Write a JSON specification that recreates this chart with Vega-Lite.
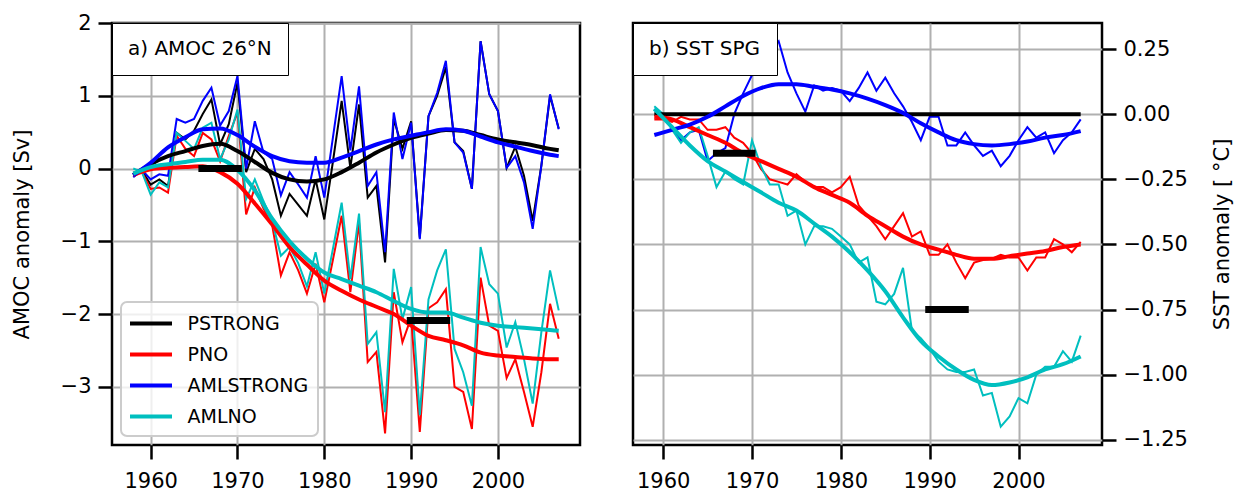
{
"$schema": "https://vega.github.io/schema/vega-lite/v6.json",
"background": "white",
"padding": {"left": 9, "top": 10, "right": 5, "bottom": 2},
"spacing": 49,
"config": {
 "font": "DejaVu Sans",
 "view": {"stroke": "black", "strokeWidth": 2.5},
 "axis": {"labelFont": "DejaVu Sans", "titleFont": "DejaVu Sans", "labelFontSize": 21, "titleFontSize": 21, "titleFontWeight": "normal", "labelColor": "black", "titleColor": "black", "tickColor": "black", "tickSize": 14, "tickWidth": 2.5, "domain": false, "grid": true, "gridColor": "#b0b0b0", "gridWidth": 2, "gridOpacity": 1, "labelPadding": 7},
 "axisX": {"labelPadding": 11},
 "legend": {"titleFont": "DejaVu Sans", "labelFont": "DejaVu Sans"}
},
"datasets": {
 "a_thin": [
  {"year":1958,"P_STRONG":-0.08,"P_NO":-0.05,"AML_STRONG":-0.12,"AML_NO":0.0},
  {"year":1959,"P_STRONG":-0.03,"P_NO":-0.05,"AML_STRONG":-0.02,"AML_NO":-0.05},
  {"year":1960,"P_STRONG":-0.22,"P_NO":-0.28,"AML_STRONG":-0.15,"AML_NO":-0.36},
  {"year":1961,"P_STRONG":-0.15,"P_NO":-0.26,"AML_STRONG":-0.08,"AML_NO":-0.19},
  {"year":1962,"P_STRONG":-0.24,"P_NO":-0.33,"AML_STRONG":-0.10,"AML_NO":-0.26},
  {"year":1963,"P_STRONG":0.49,"P_NO":0.45,"AML_STRONG":0.68,"AML_NO":0.49},
  {"year":1964,"P_STRONG":0.40,"P_NO":0.27,"AML_STRONG":0.63,"AML_NO":0.38},
  {"year":1965,"P_STRONG":0.52,"P_NO":0.17,"AML_STRONG":0.68,"AML_NO":0.27},
  {"year":1966,"P_STRONG":0.75,"P_NO":0.49,"AML_STRONG":0.93,"AML_NO":0.56},
  {"year":1967,"P_STRONG":0.95,"P_NO":0.40,"AML_STRONG":1.11,"AML_NO":0.63},
  {"year":1968,"P_STRONG":0.33,"P_NO":0.10,"AML_STRONG":0.59,"AML_NO":0.13},
  {"year":1969,"P_STRONG":0.61,"P_NO":0.45,"AML_STRONG":0.79,"AML_NO":0.40},
  {"year":1970,"P_STRONG":1.18,"P_NO":0.77,"AML_STRONG":1.27,"AML_NO":0.81},
  {"year":1971,"P_STRONG":-0.05,"P_NO":-0.63,"AML_STRONG":0.00,"AML_NO":-0.42},
  {"year":1972,"P_STRONG":0.27,"P_NO":-0.26,"AML_STRONG":0.65,"AML_NO":-0.15},
  {"year":1973,"P_STRONG":0.13,"P_NO":-0.55,"AML_STRONG":0.22,"AML_NO":-0.45},
  {"year":1974,"P_STRONG":-0.15,"P_NO":-0.78,"AML_STRONG":0.13,"AML_NO":-0.72},
  {"year":1975,"P_STRONG":-0.65,"P_NO":-1.47,"AML_STRONG":-0.37,"AML_NO":-1.20},
  {"year":1976,"P_STRONG":-0.35,"P_NO":-1.15,"AML_STRONG":-0.05,"AML_NO":-1.08},
  {"year":1977,"P_STRONG":-0.50,"P_NO":-1.40,"AML_STRONG":-0.22,"AML_NO":-1.30},
  {"year":1978,"P_STRONG":-0.65,"P_NO":-1.72,"AML_STRONG":-0.40,"AML_NO":-1.62},
  {"year":1979,"P_STRONG":-0.15,"P_NO":-1.31,"AML_STRONG":0.17,"AML_NO":-1.15},
  {"year":1980,"P_STRONG":-0.70,"P_NO":-1.84,"AML_STRONG":-0.40,"AML_NO":-1.72},
  {"year":1981,"P_STRONG":0.10,"P_NO":-1.25,"AML_STRONG":0.43,"AML_NO":-1.10},
  {"year":1982,"P_STRONG":0.93,"P_NO":-0.65,"AML_STRONG":1.27,"AML_NO":-0.47},
  {"year":1983,"P_STRONG":0.01,"P_NO":-1.70,"AML_STRONG":0.25,"AML_NO":-1.52},
  {"year":1984,"P_STRONG":0.88,"P_NO":-0.74,"AML_STRONG":1.13,"AML_NO":-0.62},
  {"year":1985,"P_STRONG":-0.40,"P_NO":-2.66,"AML_STRONG":-0.24,"AML_NO":-2.41},
  {"year":1986,"P_STRONG":-0.24,"P_NO":-2.52,"AML_STRONG":-0.05,"AML_NO":-2.25},
  {"year":1987,"P_STRONG":-1.29,"P_NO":-3.64,"AML_STRONG":-1.15,"AML_NO":-3.35},
  {"year":1988,"P_STRONG":0.68,"P_NO":-1.70,"AML_STRONG":0.77,"AML_NO":-1.38},
  {"year":1989,"P_STRONG":0.27,"P_NO":-2.39,"AML_STRONG":0.13,"AML_NO":-2.07},
  {"year":1990,"P_STRONG":0.65,"P_NO":-2.05,"AML_STRONG":0.63,"AML_NO":-1.63},
  {"year":1991,"P_STRONG":-0.95,"P_NO":-3.62,"AML_STRONG":-0.97,"AML_NO":-3.39},
  {"year":1992,"P_STRONG":0.72,"P_NO":-1.92,"AML_STRONG":0.72,"AML_NO":-1.80},
  {"year":1993,"P_STRONG":1.00,"P_NO":-1.84,"AML_STRONG":1.04,"AML_NO":-1.40},
  {"year":1994,"P_STRONG":1.39,"P_NO":-1.66,"AML_STRONG":1.48,"AML_NO":-1.11},
  {"year":1995,"P_STRONG":0.36,"P_NO":-3.00,"AML_STRONG":0.36,"AML_NO":-2.48},
  {"year":1996,"P_STRONG":0.24,"P_NO":-3.07,"AML_STRONG":0.22,"AML_NO":-2.80},
  {"year":1997,"P_STRONG":-0.28,"P_NO":-3.58,"AML_STRONG":-0.28,"AML_NO":-3.26},
  {"year":1998,"P_STRONG":1.75,"P_NO":-1.50,"AML_STRONG":1.75,"AML_NO":-1.08},
  {"year":1999,"P_STRONG":1.02,"P_NO":-2.16,"AML_STRONG":1.02,"AML_NO":-1.59},
  {"year":2000,"P_STRONG":0.79,"P_NO":-2.23,"AML_STRONG":0.79,"AML_NO":-1.72},
  {"year":2001,"P_STRONG":0.01,"P_NO":-2.88,"AML_STRONG":0.01,"AML_NO":-2.46},
  {"year":2002,"P_STRONG":0.30,"P_NO":-2.62,"AML_STRONG":0.17,"AML_NO":-2.11},
  {"year":2003,"P_STRONG":-0.10,"P_NO":-3.07,"AML_STRONG":-0.19,"AML_NO":-2.62},
  {"year":2004,"P_STRONG":-0.72,"P_NO":-3.55,"AML_STRONG":-0.83,"AML_NO":-3.23},
  {"year":2005,"P_STRONG":0.04,"P_NO":-2.80,"AML_STRONG":0.04,"AML_NO":-2.25},
  {"year":2006,"P_STRONG":1.00,"P_NO":-1.86,"AML_STRONG":1.02,"AML_NO":-1.40},
  {"year":2007,"P_STRONG":0.55,"P_NO":-2.34,"AML_STRONG":0.54,"AML_NO":-1.95}
 ],
 "a_smooth": [
  {"year":1958,"P_STRONG":-0.09,"P_NO":-0.09,"AML_STRONG":-0.09,"AML_NO":-0.07},
  {"year":1960,"P_STRONG":0.06,"P_NO":-0.01,"AML_STRONG":0.08,"AML_NO":0.02},
  {"year":1962,"P_STRONG":0.17,"P_NO":0.01,"AML_STRONG":0.29,"AML_NO":0.06},
  {"year":1964,"P_STRONG":0.24,"P_NO":0.02,"AML_STRONG":0.43,"AML_NO":0.09},
  {"year":1966,"P_STRONG":0.31,"P_NO":0.03,"AML_STRONG":0.54,"AML_NO":0.12},
  {"year":1968,"P_STRONG":0.34,"P_NO":-0.05,"AML_STRONG":0.55,"AML_NO":0.12},
  {"year":1970,"P_STRONG":0.24,"P_NO":-0.21,"AML_STRONG":0.46,"AML_NO":-0.02},
  {"year":1972,"P_STRONG":0.09,"P_NO":-0.48,"AML_STRONG":0.30,"AML_NO":-0.30},
  {"year":1974,"P_STRONG":-0.06,"P_NO":-0.77,"AML_STRONG":0.17,"AML_NO":-0.69},
  {"year":1976,"P_STRONG":-0.15,"P_NO":-1.08,"AML_STRONG":0.10,"AML_NO":-1.00},
  {"year":1978,"P_STRONG":-0.18,"P_NO":-1.32,"AML_STRONG":0.08,"AML_NO":-1.24},
  {"year":1980,"P_STRONG":-0.15,"P_NO":-1.54,"AML_STRONG":0.08,"AML_NO":-1.43},
  {"year":1982,"P_STRONG":-0.05,"P_NO":-1.68,"AML_STRONG":0.15,"AML_NO":-1.52},
  {"year":1984,"P_STRONG":0.08,"P_NO":-1.80,"AML_STRONG":0.24,"AML_NO":-1.61},
  {"year":1986,"P_STRONG":0.22,"P_NO":-1.90,"AML_STRONG":0.33,"AML_NO":-1.70},
  {"year":1988,"P_STRONG":0.33,"P_NO":-2.00,"AML_STRONG":0.40,"AML_NO":-1.82},
  {"year":1990,"P_STRONG":0.42,"P_NO":-2.16,"AML_STRONG":0.45,"AML_NO":-1.93},
  {"year":1992,"P_STRONG":0.48,"P_NO":-2.30,"AML_STRONG":0.50,"AML_NO":-1.98},
  {"year":1994,"P_STRONG":0.53,"P_NO":-2.36,"AML_STRONG":0.54,"AML_NO":-1.98},
  {"year":1996,"P_STRONG":0.52,"P_NO":-2.43,"AML_STRONG":0.52,"AML_NO":-2.05},
  {"year":1998,"P_STRONG":0.46,"P_NO":-2.53,"AML_STRONG":0.44,"AML_NO":-2.12},
  {"year":2000,"P_STRONG":0.40,"P_NO":-2.57,"AML_STRONG":0.36,"AML_NO":-2.16},
  {"year":2002,"P_STRONG":0.36,"P_NO":-2.59,"AML_STRONG":0.30,"AML_NO":-2.18},
  {"year":2004,"P_STRONG":0.32,"P_NO":-2.61,"AML_STRONG":0.24,"AML_NO":-2.20},
  {"year":2006,"P_STRONG":0.27,"P_NO":-2.62,"AML_STRONG":0.19,"AML_NO":-2.22},
  {"year":2007,"P_STRONG":0.25,"P_NO":-2.62,"AML_STRONG":0.17,"AML_NO":-2.23}
 ],
 "a_bars": [
  {"panel":"a","start":1965.5,"end":1970.5,"value":0.0},
  {"panel":"a","start":1989.5,"end":1994.5,"value":-2.09}
 ],
 "b_thin": [
  {"year":1959,"P_NO":-0.02,"AML_STRONG":0.02,"AML_NO":0.03},
  {"year":1960,"P_NO":-0.02,"AML_STRONG":-0.01,"AML_NO":0.00},
  {"year":1961,"P_NO":-0.03,"AML_STRONG":-0.05,"AML_NO":-0.06},
  {"year":1962,"P_NO":-0.01,"AML_STRONG":-0.10,"AML_NO":-0.11},
  {"year":1963,"P_NO":-0.02,"AML_STRONG":-0.07,"AML_NO":-0.07},
  {"year":1964,"P_NO":-0.02,"AML_STRONG":-0.06,"AML_NO":-0.05},
  {"year":1965,"P_NO":-0.06,"AML_STRONG":-0.18,"AML_NO":-0.16},
  {"year":1966,"P_NO":-0.06,"AML_STRONG":-0.15,"AML_NO":-0.28},
  {"year":1967,"P_NO":-0.05,"AML_STRONG":-0.13,"AML_NO":-0.22},
  {"year":1968,"P_NO":-0.09,"AML_STRONG":0.00,"AML_NO":-0.25},
  {"year":1969,"P_NO":-0.11,"AML_STRONG":0.08,"AML_NO":-0.27},
  {"year":1970,"P_NO":-0.15,"AML_STRONG":0.15,"AML_NO":-0.10},
  {"year":1971,"P_NO":-0.21,"AML_STRONG":0.20,"AML_NO":-0.20},
  {"year":1972,"P_NO":-0.25,"AML_STRONG":0.24,"AML_NO":-0.27},
  {"year":1973,"P_NO":-0.26,"AML_STRONG":0.28,"AML_NO":-0.27},
  {"year":1974,"P_NO":-0.27,"AML_STRONG":0.16,"AML_NO":-0.39},
  {"year":1975,"P_NO":-0.23,"AML_STRONG":0.08,"AML_NO":-0.37},
  {"year":1976,"P_NO":-0.26,"AML_STRONG":0.01,"AML_NO":-0.50},
  {"year":1977,"P_NO":-0.28,"AML_STRONG":0.11,"AML_NO":-0.43},
  {"year":1978,"P_NO":-0.28,"AML_STRONG":0.09,"AML_NO":-0.43},
  {"year":1979,"P_NO":-0.30,"AML_STRONG":0.10,"AML_NO":-0.44},
  {"year":1980,"P_NO":-0.28,"AML_STRONG":0.09,"AML_NO":-0.47},
  {"year":1981,"P_NO":-0.24,"AML_STRONG":0.05,"AML_NO":-0.50},
  {"year":1982,"P_NO":-0.35,"AML_STRONG":0.10,"AML_NO":-0.57},
  {"year":1983,"P_NO":-0.39,"AML_STRONG":0.16,"AML_NO":-0.55},
  {"year":1984,"P_NO":-0.43,"AML_STRONG":0.09,"AML_NO":-0.72},
  {"year":1985,"P_NO":-0.48,"AML_STRONG":0.14,"AML_NO":-0.73},
  {"year":1986,"P_NO":-0.43,"AML_STRONG":0.08,"AML_NO":-0.69},
  {"year":1987,"P_NO":-0.38,"AML_STRONG":0.03,"AML_NO":-0.59},
  {"year":1988,"P_NO":-0.47,"AML_STRONG":-0.03,"AML_NO":-0.83},
  {"year":1989,"P_NO":-0.45,"AML_STRONG":-0.10,"AML_NO":-0.86},
  {"year":1990,"P_NO":-0.54,"AML_STRONG":-0.01,"AML_NO":-0.90},
  {"year":1991,"P_NO":-0.54,"AML_STRONG":-0.01,"AML_NO":-0.95},
  {"year":1992,"P_NO":-0.50,"AML_STRONG":-0.12,"AML_NO":-0.98},
  {"year":1993,"P_NO":-0.57,"AML_STRONG":-0.12,"AML_NO":-0.99},
  {"year":1994,"P_NO":-0.63,"AML_STRONG":-0.07,"AML_NO":-0.99},
  {"year":1995,"P_NO":-0.57,"AML_STRONG":-0.12,"AML_NO":-0.98},
  {"year":1996,"P_NO":-0.56,"AML_STRONG":-0.16,"AML_NO":-1.08},
  {"year":1997,"P_NO":-0.555,"AML_STRONG":-0.14,"AML_NO":-1.07},
  {"year":1998,"P_NO":-0.54,"AML_STRONG":-0.20,"AML_NO":-1.20},
  {"year":1999,"P_NO":-0.55,"AML_STRONG":-0.16,"AML_NO":-1.16},
  {"year":2000,"P_NO":-0.55,"AML_STRONG":-0.10,"AML_NO":-1.09},
  {"year":2001,"P_NO":-0.60,"AML_STRONG":-0.05,"AML_NO":-1.11},
  {"year":2002,"P_NO":-0.55,"AML_STRONG":-0.09,"AML_NO":-1.00},
  {"year":2003,"P_NO":-0.55,"AML_STRONG":-0.07,"AML_NO":-0.97},
  {"year":2004,"P_NO":-0.48,"AML_STRONG":-0.15,"AML_NO":-0.97},
  {"year":2005,"P_NO":-0.50,"AML_STRONG":-0.10,"AML_NO":-0.91},
  {"year":2006,"P_NO":-0.53,"AML_STRONG":-0.07,"AML_NO":-0.95},
  {"year":2007,"P_NO":-0.49,"AML_STRONG":-0.02,"AML_NO":-0.85}
 ],
 "b_smooth": [
  {"year":1959,"P_STRONG":0,"P_NO":-0.01,"AML_STRONG":-0.08,"AML_NO":0.02},
  {"year":1961,"P_STRONG":0,"P_NO":-0.02,"AML_STRONG":-0.06,"AML_NO":-0.05},
  {"year":1963,"P_STRONG":0,"P_NO":-0.05,"AML_STRONG":-0.04,"AML_NO":-0.12},
  {"year":1965,"P_STRONG":0,"P_NO":-0.08,"AML_STRONG":-0.01,"AML_NO":-0.18},
  {"year":1967,"P_STRONG":0,"P_NO":-0.11,"AML_STRONG":0.03,"AML_NO":-0.22},
  {"year":1969,"P_STRONG":0,"P_NO":-0.15,"AML_STRONG":0.07,"AML_NO":-0.26},
  {"year":1971,"P_STRONG":0,"P_NO":-0.18,"AML_STRONG":0.10,"AML_NO":-0.30},
  {"year":1973,"P_STRONG":0,"P_NO":-0.21,"AML_STRONG":0.115,"AML_NO":-0.34},
  {"year":1975,"P_STRONG":0,"P_NO":-0.24,"AML_STRONG":0.115,"AML_NO":-0.37},
  {"year":1977,"P_STRONG":0,"P_NO":-0.28,"AML_STRONG":0.105,"AML_NO":-0.42},
  {"year":1979,"P_STRONG":0,"P_NO":-0.31,"AML_STRONG":0.095,"AML_NO":-0.47},
  {"year":1981,"P_STRONG":0,"P_NO":-0.34,"AML_STRONG":0.08,"AML_NO":-0.53},
  {"year":1983,"P_STRONG":0,"P_NO":-0.39,"AML_STRONG":0.06,"AML_NO":-0.60},
  {"year":1985,"P_STRONG":0,"P_NO":-0.43,"AML_STRONG":0.035,"AML_NO":-0.68},
  {"year":1987,"P_STRONG":0,"P_NO":-0.47,"AML_STRONG":0.005,"AML_NO":-0.78},
  {"year":1989,"P_STRONG":0,"P_NO":-0.50,"AML_STRONG":-0.035,"AML_NO":-0.87},
  {"year":1991,"P_STRONG":0,"P_NO":-0.52,"AML_STRONG":-0.07,"AML_NO":-0.93},
  {"year":1993,"P_STRONG":0,"P_NO":-0.54,"AML_STRONG":-0.10,"AML_NO":-0.98},
  {"year":1995,"P_STRONG":0,"P_NO":-0.555,"AML_STRONG":-0.115,"AML_NO":-1.02},
  {"year":1997,"P_STRONG":0,"P_NO":-0.555,"AML_STRONG":-0.12,"AML_NO":-1.04},
  {"year":1999,"P_STRONG":0,"P_NO":-0.545,"AML_STRONG":-0.115,"AML_NO":-1.03},
  {"year":2001,"P_STRONG":0,"P_NO":-0.535,"AML_STRONG":-0.105,"AML_NO":-1.01},
  {"year":2003,"P_STRONG":0,"P_NO":-0.525,"AML_STRONG":-0.09,"AML_NO":-0.98},
  {"year":2005,"P_STRONG":0,"P_NO":-0.51,"AML_STRONG":-0.08,"AML_NO":-0.96},
  {"year":2007,"P_STRONG":0,"P_NO":-0.50,"AML_STRONG":-0.065,"AML_NO":-0.93}
 ],
 "b_bars": [
  {"panel":"b","start":1965.6,"end":1970.4,"value":-0.15},
  {"panel":"b","start":1989.5,"end":1994.4,"value":-0.75}
 ]
},
"resolve": {"scale": {"color": "independent", "opacity": "independent"}, "legend": {"color": "independent", "opacity": "independent"}},
"hconcat": [
 {
  "width": 468, "height": 422,
  "encoding": {
   "x": {"field": "year", "type": "quantitative", "scale": {"domain": [1955.55, 2009.45], "nice": false, "zero": false}, "axis": {"values": [1960, 1970, 1980, 1990, 2000], "format": "d", "title": null}},
   "y": {"field": "value", "type": "quantitative", "scale": {"domain": [-3.8, 2.0], "nice": false, "zero": false}, "axis": {"values": [-3, -2, -1, 0, 1, 2], "title": "AMOC anomaly [Sv]", "titlePadding": 28, "labelExpr": "replace(datum.label, '-', '−')"}}
  },
  "layer": [
   {"data": {"name": "a_thin"}, "transform": [{"fold": ["P_STRONG", "P_NO", "AML_STRONG", "AML_NO"], "as": ["series", "value"]}],
    "mark": {"type": "line", "strokeWidth": 2},
    "encoding": {"color": {"field": "series", "type": "nominal", "scale": {"domain": ["P_STRONG", "P_NO", "AML_STRONG", "AML_NO"], "range": ["#000000", "#ff0000", "#0000ff", "#00bfbf"]},
      "legend": {"title": null, "orient": "bottom-left", "offset": 9, "symbolType": "M-2,0H2", "symbolSize": 441, "symbolStrokeWidth": 4, "symbolOffset": 8.5, "labelFontSize": 19, "labelColor": "black", "labelOffset": 24, "padding": 9, "rowPadding": 8, "strokeColor": "#cccccc", "fillColor": "rgba(255,255,255,0.8)", "cornerRadius": 6, "labelExpr": "replace(datum.label, '_', '')", "encode": {"legend": {"update": {"strokeWidth": {"value": 2}}}}}}}},
   {"data": {"name": "a_smooth"}, "transform": [{"fold": ["P_STRONG", "P_NO", "AML_STRONG", "AML_NO"], "as": ["series", "value"]}],
    "mark": {"type": "line", "strokeWidth": 4, "interpolate": "monotone"},
    "encoding": {"color": {"field": "series", "type": "nominal", "scale": {"domain": ["P_STRONG", "P_NO", "AML_STRONG", "AML_NO"], "range": ["#000000", "#ff0000", "#0000ff", "#00bfbf"]}}}},
   {"data": {"name": "a_bars"},
    "mark": {"type": "rule", "strokeWidth": 7, "color": "black", "strokeCap": "butt"},
    "encoding": {"x": {"field": "start", "type": "quantitative"}, "x2": {"field": "end"}, "y": {"field": "value", "type": "quantitative"},
     "opacity": {"field": "panel", "type": "nominal", "scale": {"domain": ["a"], "range": [1, 1]},
      "legend": {"title": null, "orient": "top-left", "offset": 0, "labelExpr": "'a) AMOC 26°N'", "labelFontSize": 20, "labelColor": "black", "labelLimit": 400, "labelOffset": -20, "symbolSize": 0, "symbolOpacity": 0, "symbolStrokeWidth": 0, "symbolOffset": 0, "padding": 16, "strokeColor": "black", "fillColor": "white", "cornerRadius": 0, "encode": {"legend": {"update": {"strokeWidth": {"value": 3}}}}}}}}
  ]
 },
 {
  "width": 469, "height": 422,
  "encoding": {
   "x": {"field": "year", "type": "quantitative", "scale": {"domain": [1956.6, 2009.4], "nice": false, "zero": false}, "axis": {"values": [1960, 1970, 1980, 1990, 2000], "format": "d", "title": null}},
   "y": {"field": "value", "type": "quantitative", "scale": {"domain": [-1.27, 0.35], "nice": false, "zero": false}, "axis": {"orient": "right", "values": [-1.25, -1.0, -0.75, -0.5, -0.25, 0, 0.25], "format": ".2f", "title": "SST anomaly [ °C]", "titleAngle": 270, "titleBaseline": "top", "titlePadding": 24, "labelExpr": "replace(datum.label, '-', '−')"}}
  },
  "layer": [
   {"data": {"name": "b_thin"}, "transform": [{"fold": ["P_NO", "AML_STRONG", "AML_NO"], "as": ["series", "value"]}],
    "mark": {"type": "line", "strokeWidth": 2},
    "encoding": {"color": {"field": "series", "type": "nominal", "scale": {"domain": ["P_STRONG", "P_NO", "AML_STRONG", "AML_NO"], "range": ["#000000", "#ff0000", "#0000ff", "#00bfbf"]}, "legend": null}}},
   {"data": {"name": "b_smooth"}, "transform": [{"fold": ["P_STRONG", "P_NO", "AML_STRONG", "AML_NO"], "as": ["series", "value"]}],
    "mark": {"type": "line", "strokeWidth": 4, "interpolate": "monotone"},
    "encoding": {"color": {"field": "series", "type": "nominal", "scale": {"domain": ["P_STRONG", "P_NO", "AML_STRONG", "AML_NO"], "range": ["#000000", "#ff0000", "#0000ff", "#00bfbf"]}, "legend": null}}},
   {"data": {"name": "b_bars"},
    "mark": {"type": "rule", "strokeWidth": 7, "color": "black", "strokeCap": "butt"},
    "encoding": {"x": {"field": "start", "type": "quantitative"}, "x2": {"field": "end"}, "y": {"field": "value", "type": "quantitative"},
     "opacity": {"field": "panel", "type": "nominal", "scale": {"domain": ["b"], "range": [1, 1]},
      "legend": {"title": null, "orient": "top-left", "offset": 0, "labelExpr": "'b) SST SPG'", "labelFontSize": 20, "labelColor": "black", "labelLimit": 400, "labelOffset": -20, "symbolSize": 0, "symbolOpacity": 0, "symbolStrokeWidth": 0, "symbolOffset": 0, "padding": 16, "strokeColor": "black", "fillColor": "white", "cornerRadius": 0, "encode": {"legend": {"update": {"strokeWidth": {"value": 3}}}}}}}}
  ]
 }
]
}
